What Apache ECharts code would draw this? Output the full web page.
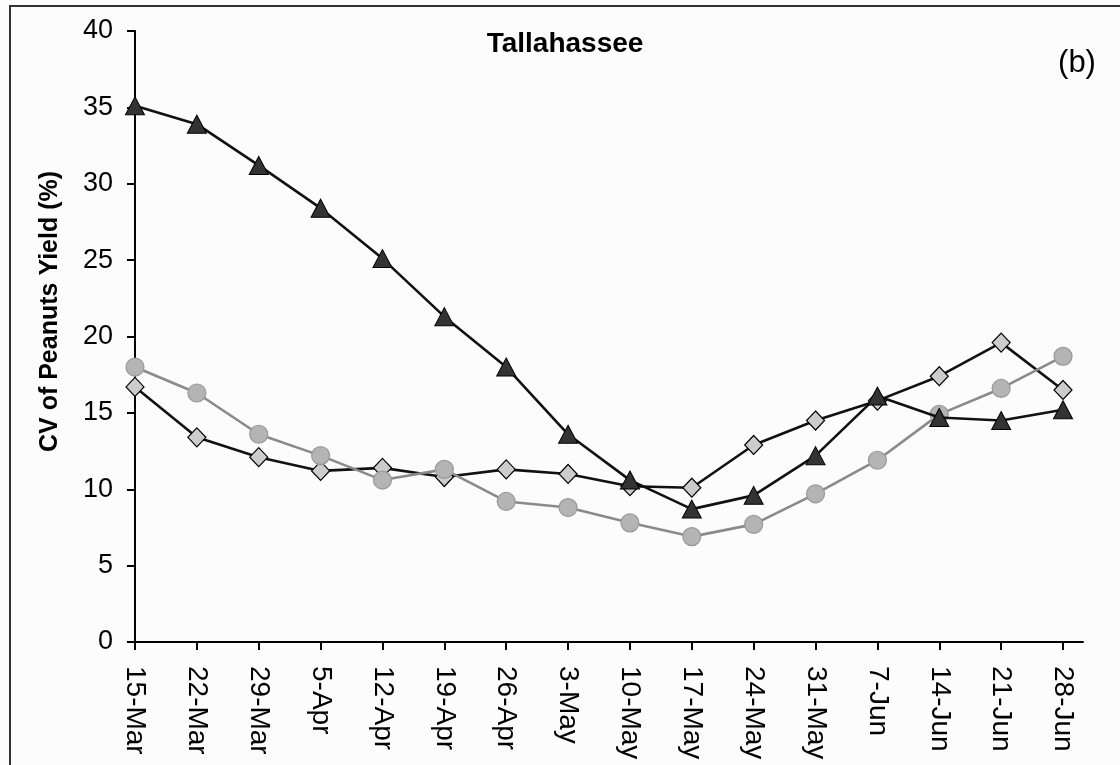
<!DOCTYPE html>
<html>
<head>
<meta charset="utf-8">
<script src="https://cdn.jsdelivr.net/npm/echarts@6/dist/echarts.min.js"></script>
<style>html,body{margin:0;padding:0;background:#fcfcfc;}#c{width:1120px;height:765px;}</style>
</head>
<body>
<div id="c"></div>
<script>
const dates = ['15-Mar','22-Mar','29-Mar','5-Apr','12-Apr','19-Apr','26-Apr','3-May','10-May','17-May','24-May','31-May','7-Jun','14-Jun','21-Jun','28-Jun'];
const triangleSeries = [35.1,33.9,31.2,28.4,25.1,21.3,18.0,13.6,10.6,8.7,9.6,12.2,16.1,14.7,14.5,15.2];
const diamondSeries = [16.7,13.4,12.1,11.2,11.4,10.8,11.3,11.0,10.2,10.1,12.9,14.5,15.8,17.4,19.6,16.5];
const circleSeries = [18.0,16.3,13.6,12.2,10.6,11.3,9.2,8.8,7.8,6.9,7.7,9.7,11.9,14.9,16.6,18.7];
const yTicks = [0,5,10,15,20,25,30,35,40];

const idx = dates.map((d,i)=>i);
const pairs = arr => arr.map((v,i)=>[i,v]);
const FONT = '"Liberation Sans", Arial, sans-serif';

const chart = echarts.init(document.getElementById('c'), null, {renderer:'canvas'});
chart.setOption({
  backgroundColor:'#fcfcfc',
  animation:false,
  title:[
    {text:'Tallahassee', left:565, top:30, padding:0, textAlign:'center',
     textStyle:{fontFamily:FONT, fontSize:28, fontWeight:'bold', color:'#000'}},
    {text:'(b)', left:1077, top:48, padding:0, textAlign:'center',
     textStyle:{fontFamily:FONT, fontSize:31, fontWeight:'normal', color:'#000'}}
  ],
  graphic:[{type:'rect', shape:{x:10,y:6,width:1200,height:900}, style:{fill:null, stroke:'#333', lineWidth:2}, silent:true}],
  grid:{left:135, right:37, top:31, bottom:123, containLabel:false},
  xAxis:{
    type:'value', min:0, max:15.323,
    axisLine:{show:true, onZero:false, lineStyle:{color:'#000', width:2}},
    axisTick:{show:true, inside:false, length:8, customValues:idx, lineStyle:{color:'#000', width:2}},
    axisLabel:{show:true, customValues:idx, rotate:-90, margin:24, fontFamily:FONT, fontSize:28, color:'#000',
      formatter:v=>dates[Math.round(v)] || ''},
    splitLine:{show:false}
  },
  yAxis:{
    type:'value', min:yTicks[0], max:yTicks[yTicks.length-1], interval:5,
    name:'CV of Peanuts Yield (%)', nameLocation:'middle', nameGap:72,
    nameTextStyle:{fontFamily:FONT, fontSize:25, fontWeight:'bold', color:'#000', padding:[0,0,0,50]},
    axisLine:{show:true, lineStyle:{color:'#000', width:2}},
    axisTick:{show:true, inside:false, length:8, lineStyle:{color:'#000', width:2}},
    axisLabel:{margin:22, fontFamily:FONT, fontSize:27, color:'#000', formatter:v=>String(v)},
    splitLine:{show:false}
  },
  series:[
    {name:'diamond', type:'line', data:pairs(diamondSeries), symbol:'diamond', symbolSize:[18,19],
     lineStyle:{color:'#111', width:2.6}, itemStyle:{color:'#cccccc', borderColor:'#000', borderWidth:1.2}, z:2},
    {name:'circle', type:'line', data:pairs(circleSeries), symbol:'circle', symbolSize:18,
     lineStyle:{color:'#8a8a8a', width:2.6}, itemStyle:{color:'#b4b4b4', borderColor:'#999', borderWidth:1.2}, z:3},
    {name:'triangle', type:'line', data:pairs(triangleSeries), symbol:'triangle', symbolSize:[19,18],
     lineStyle:{color:'#111', width:2.6}, itemStyle:{color:'#333333', borderColor:'#000', borderWidth:1}, z:4}
  ]
});
</script>
</body>
</html>
